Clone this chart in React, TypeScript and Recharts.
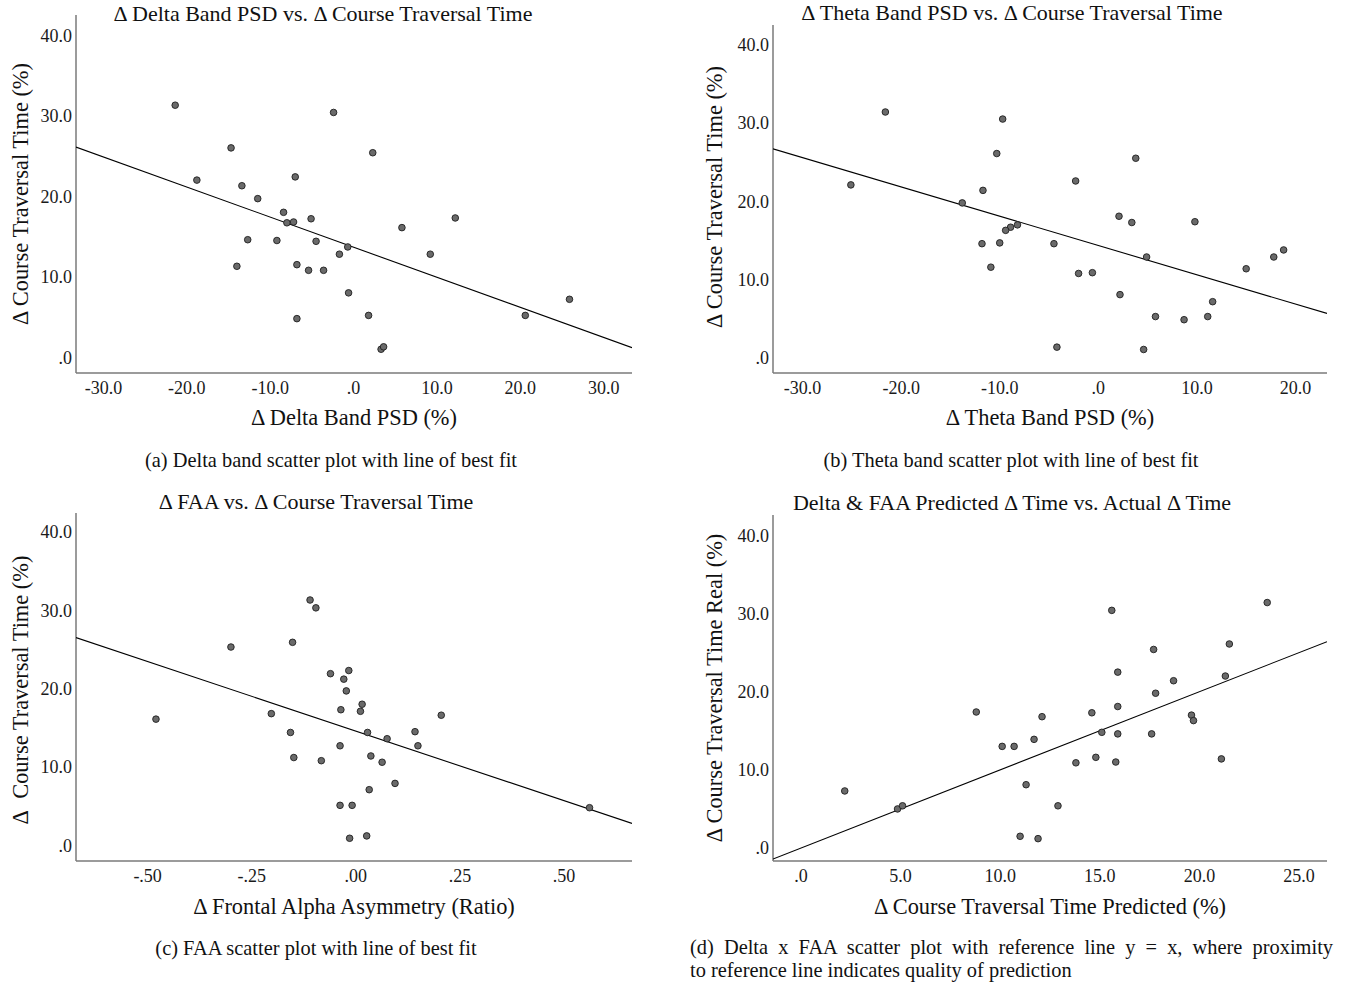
import React from 'react';
import { ScatterChart, Scatter, XAxis, YAxis } from 'recharts';

// ---- Panel (a): Delta band PSD vs course traversal time ----
const deltaX = [-21.4, -2.4, -14.7, 2.3, -18.8, -13.4, -7.0, -11.5, -8.4, -8.0, -7.2, -5.1, 12.2, 5.8, -12.7, -9.2, -4.5, -0.7, -1.7, 9.2, -14.0, -6.8, -5.4, -3.6, -0.6, 1.8, -6.8, 20.6, 25.9, 3.3, 3.6];
const deltaY = [31.3, 30.4, 26.0, 25.4, 22.0, 21.3, 22.4, 19.7, 18.0, 16.7, 16.8, 17.2, 17.3, 16.1, 14.6, 14.5, 14.4, 13.7, 12.8, 12.8, 11.3, 11.5, 10.8, 10.8, 8.0, 5.2, 4.8, 5.2, 7.2, 1.0, 1.3];
const deltaFit = [{ x: -33.3, y: 26.1 }, { x: 33.4, y: 1.2 }];
const deltaXTicks = [-30, -20, -10, 0, 10, 20, 30];

// ---- Panel (b): Theta band PSD ----
const thetaX = [-21.6, -9.7, -10.3, 3.8, -25.1, -2.3, -11.7, -13.8, 2.1, 3.4, 9.8, -8.2, -8.9, -9.4, -11.8, -10.0, -4.5, 18.8, 17.8, 4.9, -10.9, 15.0, -2.0, -0.6, 2.2, 11.6, 5.8, 11.1, 8.7, -4.2, 4.6];
const thetaY = [31.4, 30.5, 26.1, 25.5, 22.1, 22.6, 21.4, 19.8, 18.1, 17.3, 17.4, 17.0, 16.7, 16.3, 14.6, 14.7, 14.6, 13.8, 12.9, 12.9, 11.6, 11.4, 10.8, 10.9, 8.1, 7.2, 5.3, 5.3, 4.9, 1.4, 1.1];
const thetaFit = [{ x: -33.0, y: 26.7 }, { x: 23.2, y: 5.7 }];
const thetaXTicks = [-30, -20, -10, 0, 10, 20];

// ---- Panel (c): Frontal alpha asymmetry ----
const faaX = [-0.110, -0.096, -0.152, -0.300, -0.061, -0.017, -0.029, -0.023, 0.015, 0.011, -0.036, -0.480, -0.203, 0.205, -0.157, 0.028, 0.142, 0.075, -0.038, 0.149, -0.149, 0.036, -0.083, 0.063, 0.094, 0.032, -0.038, -0.009, 0.561, -0.015, 0.026];
const faaY = [31.3, 30.3, 25.9, 25.3, 21.9, 22.3, 21.2, 19.7, 18.0, 17.1, 17.3, 16.1, 16.8, 16.6, 14.4, 14.4, 14.5, 13.6, 12.7, 12.7, 11.2, 11.4, 10.8, 10.6, 7.9, 7.1, 5.1, 5.1, 4.8, 0.9, 1.2];
const faaFit = [{ x: -0.672, y: 26.5 }, { x: 0.663, y: 2.8 }];
const faaXTicks = [-0.5, -0.25, 0, 0.25, 0.5];

// ---- Panel (d): predicted vs actual ----
const predX = [23.4, 15.6, 21.5, 17.7, 15.9, 21.3, 18.7, 17.8, 15.9, 8.8, 14.6, 12.1, 19.6, 19.7, 15.1, 15.9, 17.6, 11.7, 10.1, 10.7, 14.8, 21.1, 13.8, 15.8, 11.3, 2.2, 4.85, 5.1, 12.9, 11.0, 11.9];
const predY = [31.4, 30.4, 26.1, 25.4, 22.5, 22.0, 21.4, 19.8, 18.1, 17.4, 17.3, 16.8, 17.0, 16.3, 14.8, 14.6, 14.6, 13.9, 13.0, 13.0, 11.6, 11.4, 10.9, 11.0, 8.1, 7.3, 5.0, 5.4, 5.4, 1.5, 1.2];
const refLine = [{ x: -1.4, y: -1.4 }, { x: 26.4, y: 26.4 }];
const predXTicks = [0, 5, 10, 15, 20, 25];

const yTicks = [0, 10, 20, 30, 40];

const toPoints = (xs: number[], ys: number[]) => xs.map((x, i) => ({ x, y: ys[i] }));

const strip = (s: string) => s.replace(/^(-?)0\./, '$1.');
const fmt1 = (v: number) => strip(v.toFixed(1));
const fmt2 = (v: number) => strip(v.toFixed(2));

const FONT = '"Liberation Serif", "Times New Roman", serif';

const Dot = (props: any) => (
  <circle cx={props.cx} cy={props.cy} r={3.3} fill="#6a6a6a" stroke="#1e1e1e" strokeWidth={0.9} />
);
const NoDot = () => <g />;

type PanelProps = {
  left: number; top: number; width: number; height: number;
  margin: { top: number; right: number; bottom: number; left: number };
  points: { x: number; y: number }[];
  fit: { x: number; y: number }[];
  xDomain: [number, number];
  yDomain: [number, number];
  xTicks: number[];
  xFmt: (v: number) => string;
};

const tickStyle = { fill: '#1a1a1a', fontSize: 18, fontFamily: FONT };
const axisLineStyle = { stroke: '#7a7a7a', strokeWidth: 1.5 };

function Panel(p: PanelProps) {
  return (
    <div style={{ position: 'absolute', left: p.left, top: p.top }}>
      <ScatterChart width={p.width} height={p.height} margin={p.margin}>
        <XAxis
          dataKey="x" type="number" domain={p.xDomain} ticks={p.xTicks} allowDataOverflow
          tickFormatter={p.xFmt} tickLine={false} tickSize={0} tickMargin={8} height={30}
          axisLine={axisLineStyle} tick={tickStyle} interval={0}
        />
        <YAxis
          dataKey="y" type="number" domain={p.yDomain} ticks={yTicks} allowDataOverflow
          tickFormatter={fmt1} tickLine={false} tickSize={0} tickMargin={4} width={60}
          axisLine={axisLineStyle} tick={tickStyle} interval={0}
        />
        <Scatter data={p.fit} line={{ stroke: '#000', strokeWidth: 1.1 }} shape={NoDot} isAnimationActive={false} legendType="none" />
        <Scatter data={p.points} shape={Dot} isAnimationActive={false} legendType="none" />
      </ScatterChart>
    </div>
  );
}

const Text = ({ x, y, size, children, rotate }: { x: number; y: number; size: number; children: React.ReactNode; rotate?: boolean }) => (
  <div
    style={{
      position: 'absolute', left: x, top: y, fontSize: size, fontFamily: FONT, color: '#111',
      whiteSpace: 'nowrap', lineHeight: 1,
      transform: rotate ? 'translate(-50%, -50%) rotate(-90deg)' : 'translate(-50%, -50%)',
    }}
  >
    {children}
  </div>
);

const CAP = 20.4;
const TTL = 22;
const AX = 22.4;

export default function App() {
  return (
    <div style={{ position: 'absolute', left: 0, top: 0, width: 1358, height: 988, background: '#fff', overflow: 'hidden' }}>
      <Panel left={0} top={0} width={660} height={440} margin={{ top: 15, right: 28, bottom: 37, left: 16 }}
        points={toPoints(deltaX, deltaY)} fit={deltaFit} xDomain={[-33.3, 33.4]} yDomain={[-1.95, 42.5]}
        xTicks={deltaXTicks} xFmt={fmt1} />
      <Panel left={680} top={0} width={670} height={440} margin={{ top: 25, right: 23, bottom: 37, left: 33 }}
        points={toPoints(thetaX, thetaY)} fit={thetaFit} xDomain={[-33.0, 23.2]} yDomain={[-1.9, 42.5]}
        xTicks={thetaXTicks} xFmt={fmt1} />
      <Panel left={0} top={490} width={660} height={440} margin={{ top: 23, right: 28, bottom: 39, left: 16 }}
        points={toPoints(faaX, faaY)} fit={faaFit} xDomain={[-0.672, 0.663]} yDomain={[-2.0, 42.4]}
        xTicks={faaXTicks} xFmt={fmt2} />
      <Panel left={680} top={490} width={670} height={440} margin={{ top: 25, right: 23, bottom: 39, left: 33 }}
        points={toPoints(predX, predY)} fit={refLine} xDomain={[-1.4, 26.4]} yDomain={[-1.66, 42.6]}
        xTicks={predXTicks} xFmt={fmt1} />

      {/* titles */}
      <Text x={323} y={14} size={TTL}>Δ Delta Band PSD vs. Δ Course Traversal Time</Text>
      <Text x={1012} y={13} size={TTL}>Δ Theta Band PSD vs. Δ Course Traversal Time</Text>
      <Text x={316} y={502} size={TTL}>Δ FAA vs. Δ Course Traversal Time</Text>
      <Text x={1012} y={503} size={TTL}>Delta &amp; FAA Predicted Δ Time vs. Actual Δ Time</Text>

      {/* axis titles */}
      <Text x={354} y={418} size={AX}>Δ Delta Band PSD (%)</Text>
      <Text x={1050} y={418} size={AX}>Δ Theta Band PSD (%)</Text>
      <Text x={354} y={907} size={AX}>Δ Frontal Alpha Asymmetry (Ratio)</Text>
      <Text x={1050} y={907} size={AX}>Δ Course Traversal Time Predicted (%)</Text>
      <Text x={21} y={194} size={AX} rotate>Δ Course Traversal Time (%)</Text>
      <Text x={715} y={197} size={AX} rotate>Δ Course Traversal Time (%)</Text>
      <Text x={21} y={690} size={AX} rotate>Δ&nbsp;&nbsp;Course Traversal Time (%)</Text>
      <Text x={715} y={688} size={AX} rotate>Δ Course Traversal Time Real (%)</Text>

      {/* captions */}
      <Text x={331} y={460} size={CAP}>(a) Delta band scatter plot with line of best fit</Text>
      <Text x={1011} y={460} size={CAP}>(b) Theta band scatter plot with line of best fit</Text>
      <Text x={316} y={948} size={CAP}>(c) FAA scatter plot with line of best fit</Text>
      <div style={{ position: 'absolute', left: 690, top: 937, width: 643, fontSize: CAP, fontFamily: FONT, color: '#111', lineHeight: 1, textAlign: 'justify', textAlignLast: 'justify', whiteSpace: 'nowrap' }}>
        (d) Delta x FAA scatter plot with reference line y = x, where proximity
      </div>
      <div style={{ position: 'absolute', left: 690, top: 960, fontSize: CAP, fontFamily: FONT, color: '#111', lineHeight: 1, whiteSpace: 'nowrap' }}>
        to reference line indicates quality of prediction
      </div>
    </div>
  );
}
